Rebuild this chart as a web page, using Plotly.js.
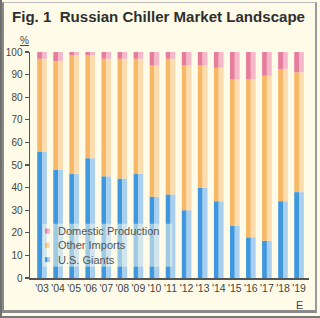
<!DOCTYPE html>
<html>
<head>
<meta charset="utf-8">
<script src="https://cdn.plot.ly/plotly-3.0.1.min.js"></script>
<style>
  html, body { margin:0; padding:0; background:#c9c9c4; }
  #wrap { position:relative; width:320px; height:318px; overflow:hidden; }
  #chart { position:absolute; left:0; top:0; width:320px; height:318px; }
  #frame { position:absolute; left:2px; top:2px; width:311px; height:307px;
           border-top:1px solid #bbb; border-left:2px solid #8a8a8a;
           border-right:2px solid #9a9a9a; border-bottom:3px solid #8a8a8a; pointer-events:none; }
  #outer { position:absolute; left:0; top:0; width:318px; height:316px; border-left:2px solid #6f6f6f; border-bottom:2px solid #777; border-right:2px solid #c8c8c8; pointer-events:none;}
</style>
</head>
<body>
<div id="wrap"><div id="chart"></div><div id="frame"></div><div id="outer"></div></div>
<script>
const years = ["'03","'04","'05","'06","'07","'08","'09","'10","'11","'12","'13","'14","'15","'16","'17","'18","'19"];
const usGiants   = [56, 48, 46, 53, 45, 44, 46, 36, 37, 30, 40, 34, 23, 18, 16.5, 34, 38];
const otherImp   = [41, 48, 52.5, 45.5, 52, 53, 51, 58, 60, 64, 54, 59, 65, 70, 73, 58.5, 53];
const domestic   = [3, 4, 1.5, 1.5, 3, 3, 3, 6, 3, 6, 6, 7, 12, 12, 10.5, 7.5, 9];
const yTicks = [0,10,20,30,40,50,60,70,80,90,100];

const series = [
  {name:'U.S. Giants', vals:usGiants, dark:'#3f98df', light:'#a8cff0'},
  {name:'Other Imports', vals:otherImp, dark:'#f6b866', light:'#fcdcae'},
  {name:'Domestic Production', vals:domestic, dark:'#e67d9d', light:'#f4b8ca'}
];

const traces = [];
let base = years.map(()=>0);
series.forEach(s => {
  const b = base.slice();
  traces.push({type:'bar', x:years, y:s.vals, base:b, name:s.name,
    marker:{color:s.dark, line:{width:0}}, width:0.3, offset:-0.3, hoverinfo:'skip'});
  traces.push({type:'bar', x:years, y:s.vals, base:b, name:s.name,
    marker:{color:s.light, line:{width:0}}, width:0.3, offset:0, hoverinfo:'skip'});
  base = base.map((v,i)=>v+s.vals[i]);
});

const font = "'Liberation Sans', Arial, sans-serif";

// manual legend (top to bottom: Domestic, Other, U.S.)
const legendRows = [series[2], series[1], series[0]];
const rowY = [0.208, 0.1447, 0.0814];
const shapes = [
  {type:'rect', xref:'paper', yref:'paper', x0:0.045, x1:0.51, y0:0.05, y1:0.24,
   fillcolor:'rgba(254,251,232,0.5)', line:{width:0}, layer:'above'}
];
const annotations = [
  {text:'<u>%</u>', xref:'paper', yref:'paper', x:-0.043, y:1.084, showarrow:false,
   font:{family:font, size:10, color:'#444'}},
  {text:'E', xref:'x', yref:'paper', x:"'19", y:-0.118, yanchor:'middle', showarrow:false,
   font:{family:font, size:11, color:'#444'}},
  {text:legendRows.map(s=>s.name).join('<br>'), xref:'paper', yref:'paper', x:0.0968, y:rowY[1],
   xanchor:'left', yanchor:'middle', align:'left', showarrow:false, borderpad:0,
   font:{family:font, size:11, color:'#555'}}
];
legendRows.forEach((s,i)=>{
  shapes.push({type:'rect', xref:'paper', yref:'paper', x0:0.054, x1:0.063, y0:rowY[i]-0.011, y1:rowY[i]+0.011,
    fillcolor:s.dark, line:{width:0}, layer:'above'});
  shapes.push({type:'rect', xref:'paper', yref:'paper', x0:0.063, x1:0.072, y0:rowY[i]-0.011, y1:rowY[i]+0.011,
    fillcolor:s.light, line:{width:0}, layer:'above'});
});

const layout = {
  width:320, height:318,
  paper_bgcolor:'#fefbe8', plot_bgcolor:'#fefbe8',
  margin:{l:30, r:11, t:52, b:40},
  barmode:'overlay',
  showlegend:false,
  title:{text:'<b>Fig. 1  Russian Chiller Market Landscape</b>',
    font:{family:font, size:14, color:'#2f2f2f'},
    xref:'container', x:12/320, xanchor:'left', yref:'container', y:1-17/318, yanchor:'middle'},
  xaxis:{type:'category', range:[-0.75, 16.62], showgrid:false, zeroline:false,
    showline:true, linecolor:'#555', linewidth:1.5, ticks:'', tickangle:0,
    tickmode:'array', tickvals:years, ticktext:years,
    tickfont:{family:font, size:10.5, color:'#444'}, fixedrange:true},
  yaxis:{range:[0,100], tickvals:yTicks, ticktext:yTicks.map(String), showgrid:false, zeroline:false,
    showline:true, linecolor:'#555', linewidth:1.5, ticks:'outside', ticklen:4, tickcolor:'#555', tickwidth:1.2,
    tickfont:{family:font, size:10, color:'#444'}, fixedrange:true},
  shapes:shapes,
  annotations:annotations
};

Plotly.newPlot('chart', traces, layout, {staticPlot:true, displayModeBar:false}).then(()=>{
  const t = document.querySelector('#chart .gtitle');
  if (t) { t.setAttribute('textLength','293'); t.setAttribute('lengthAdjust','spacingAndGlyphs'); }
});
</script>
</body>
</html>
